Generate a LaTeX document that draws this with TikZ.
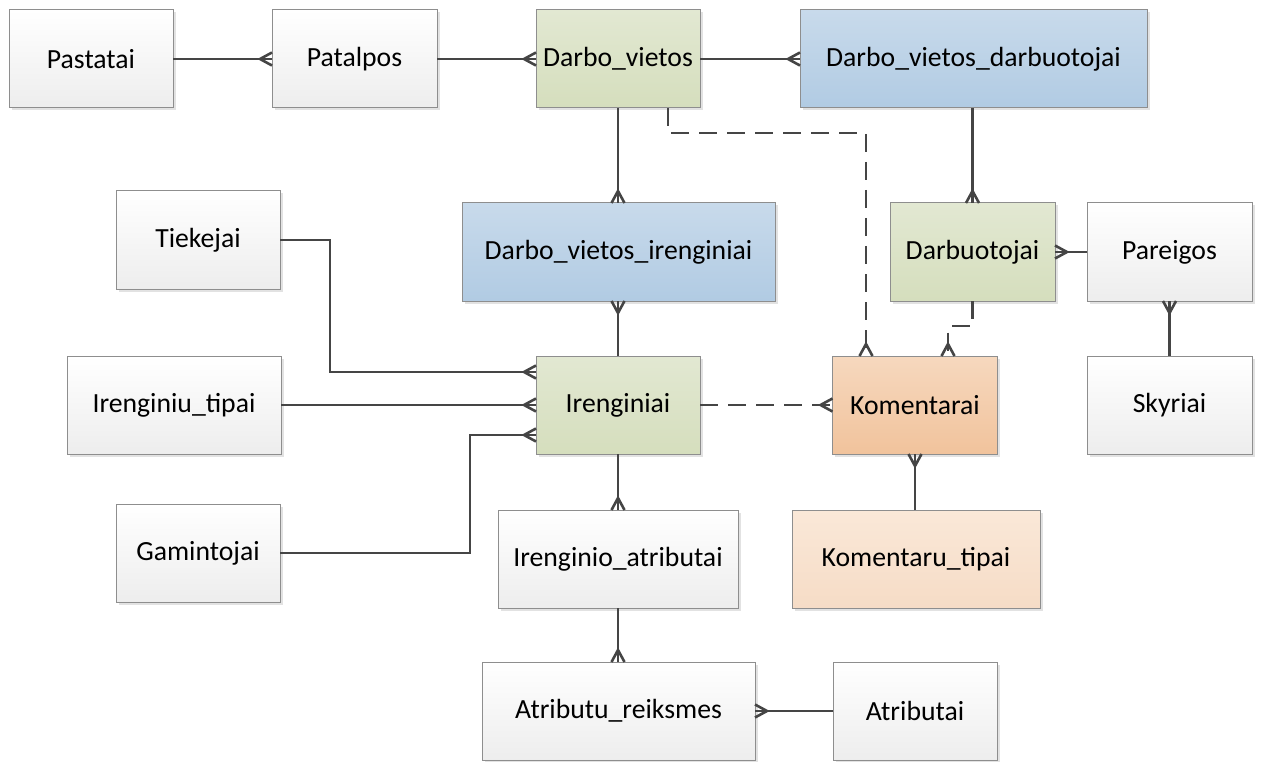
\documentclass[tikz,border=0pt]{standalone}
\usepackage{fontspec}
\setmainfont{Carlito}
\usetikzlibrary{shadows}

% crow's foot ("many") end: prongs open towards the entity border
\pgfdeclarearrow{
  name = Crow,
  parameters = {},
  setup code = {
    \pgfarrowssettipend{0pt}
    \pgfarrowssetlineend{0pt}
    \pgfarrowssetbackend{-12pt}
    \pgfarrowssetvisualbackend{-12pt}
    \pgfarrowsupperhullpoint{0pt}{6.5pt}
    \pgfarrowsupperhullpoint{-12pt}{0pt}
  },
  drawing code = {
    \pgfsetdash{}{0pt}
    \pgfpathmoveto{\pgfqpoint{0pt}{6.5pt}}
    \pgfpathlineto{\pgfqpoint{-12pt}{0pt}}
    \pgfpathlineto{\pgfqpoint{0pt}{-6.5pt}}
    \pgfusepathqstroke
  },
}

\definecolor{lineC}{HTML}{454545}
\definecolor{borderC}{HTML}{8E8E8E}
\definecolor{greenTop}{HTML}{E2E8D2}
\definecolor{greenBot}{HTML}{D5DEBD}
\definecolor{blueTop}{HTML}{C8DAEB}
\definecolor{blueBot}{HTML}{B1CBE3}
\definecolor{orangeTop}{HTML}{F6D8BE}
\definecolor{orangeBot}{HTML}{F1C39C}
\definecolor{peachTop}{HTML}{FAE8D8}
\definecolor{peachBot}{HTML}{F6DCC6}

\tikzset{
  entity/.style={draw=borderC, line width=1pt, inner sep=0pt, outer sep=0pt,
    minimum height=98pt, font=\fontsize{27.7}{33}\selectfont, text=black,
    drop shadow={shadow xshift=2.5pt, shadow yshift=-2.5pt, opacity=0.25, fill=black!45}},
  plain/.style={entity, top color=white, bottom color=black!7},
  green/.style={entity, top color=greenTop, bottom color=greenBot},
  blue/.style={entity, top color=blueTop, bottom color=blueBot},
  orange/.style={entity, top color=orangeTop, bottom color=orangeBot},
  peach/.style={entity, top color=peachTop, bottom color=peachBot},
  rel/.style={draw=lineC, line width=2.6pt, line join=miter},
  opt/.style={rel, dash pattern=on 18pt off 10pt},
  many/.style={-Crow},
}

\begin{document}
\begin{tikzpicture}[x=1pt, y=-1pt]
\useasboundingbox (0,0) rectangle (1261,762);

% entities
\node[plain,  minimum width=164pt] (pastatai) at (91,59)     {Pastatai};
\node[plain,  minimum width=165pt] (patalpos) at (354.5,59)  {Patalpos};
\node[green,  minimum width=164pt] (dv)       at (618,59)    {Darbo\_vietos};
\node[blue,   minimum width=347pt] (dvd)      at (973.5,59)  {Darbo\_vietos\_darbuotojai};
\node[plain,  minimum width=164pt] (tiek)     at (198,240)   {Tiekejai};
\node[blue,   minimum width=313pt] (dvi)      at (618.5,252) {Darbo\_vietos\_irenginiai};
\node[green,  minimum width=165pt] (darb)     at (972.5,252) {Darbuotojai};
\node[plain,  minimum width=165pt] (par)      at (1169.5,252){Pareigos};
\node[plain,  minimum width=214pt] (itipai)   at (174,405)   {Irenginiu\_tipai};
\node[green,  minimum width=164pt] (iren)     at (618,405)   {Irenginiai};
\node[orange, minimum width=165pt] (kom)      at (915,405)   {Komentarai};
\node[plain,  minimum width=165pt] (sky)      at (1169.5,405){Skyriai};
\node[plain,  minimum width=164pt] (gam)      at (198,553)   {Gamintojai};
\node[plain,  minimum width=240pt] (iatr)     at (618,559)   {Irenginio\_atributai};
\node[peach,  minimum width=248pt] (ktipai)   at (916,559)   {Komentaru\_tipai};
\node[plain,  minimum width=273pt] (arei)     at (618.5,711) {Atributu\_reiksmes};
\node[plain,  minimum width=164pt] (atr)      at (915,711)   {Atributai};

% bend points
\coordinate (t1) at (330,240);
\coordinate (t2) at (330,372);
\coordinate (g1) at (470,553);
\coordinate (g2) at (470,435);
\coordinate (d1) at (668,133);
\coordinate (d2) at (866,133);
\coordinate (e1) at (972.5,326);
\coordinate (e2) at (948,326);

% relationships
\draw[rel, many] (pastatai.east) -- (patalpos.west);
\draw[rel, many] (patalpos.east) -- (dv.west);
\draw[rel, many] (dv.east) -- (dvd.west);
\draw[rel, many] (dv.south) -- (dvi.north -| dv.south);
\draw[rel, many] (dvd.south -| darb.north) -- (darb.north);
\draw[rel, many] (par.west) -- (darb.east);
\draw[rel, many] (sky.north) -- (par.south);
\draw[rel, many] (iren.north) -- (dvi.south -| iren.north);
\draw[rel, many] (tiek.east) -- (t1) -- (t2) -- (iren.west |- t2);
\draw[rel, many] (itipai.east) -- (iren.west);
\draw[rel, many] (gam.east) -- (g1) -- (g2) -- (iren.west |- g2);
\draw[rel, many] (iren.south) -- (iatr.north);
\draw[rel, many] (iatr.south) -- (arei.north -| iatr.south);
\draw[rel, many] (atr.west) -- (arei.east);
\draw[rel, many] (ktipai.north -| kom.south) -- (kom.south);

% optional relationships
\draw[opt, many] (iren.east) -- (kom.west);
\draw[opt, many] (dv.south -| d1) -- (d1) -- (d2) -- (kom.north -| d2);
\draw[opt, many] (darb.south) -- (e1) -- (e2) -- (kom.north -| e2);
\end{tikzpicture}
\end{document}
